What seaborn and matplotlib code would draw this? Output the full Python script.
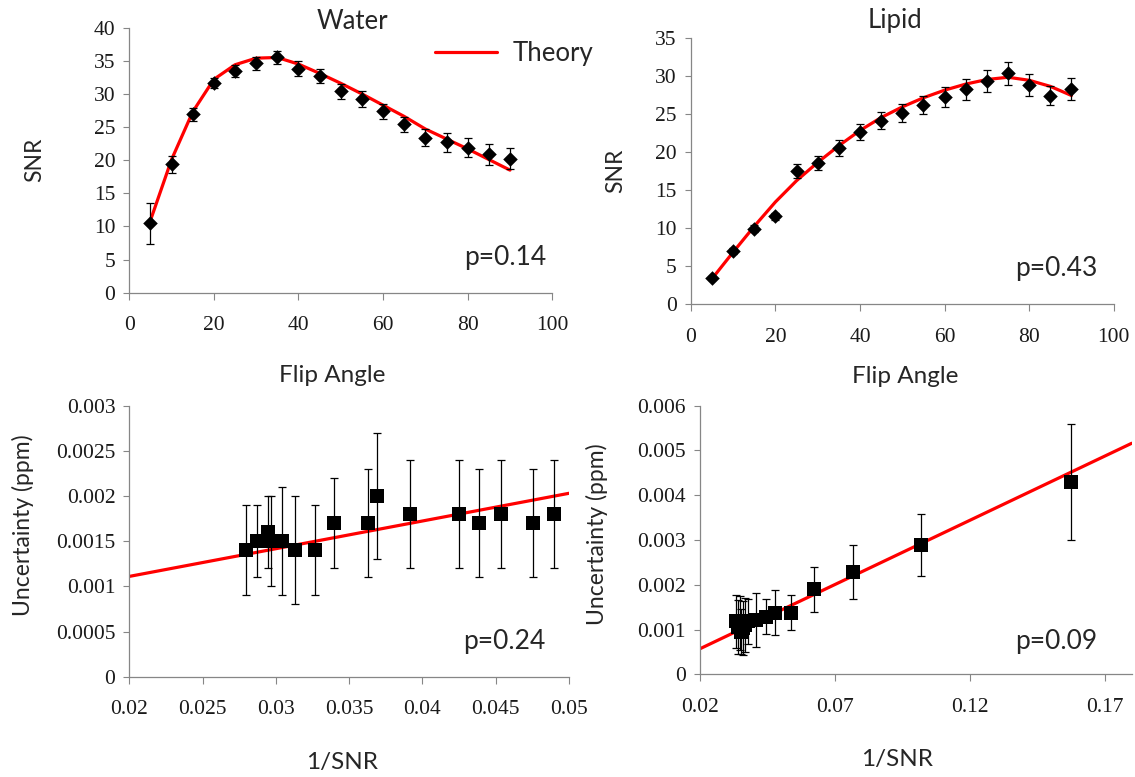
import numpy as np
import matplotlib
matplotlib.use('Agg')
import matplotlib.pyplot as plt
import seaborn as sns

# flip angle sweep (top row)
flip_angle = [5, 10, 15, 20, 25, 30, 35, 40, 45, 50, 55, 60, 65, 70, 75, 80, 85, 90]

water_snr = [10.5, 19.4, 26.9, 31.7, 33.5, 34.6, 35.5, 33.8, 32.7, 30.4, 29.3, 27.4,
             25.4, 23.4, 22.7, 21.9, 20.9, 20.2]
water_err = [3.1, 1.3, 1.0, 0.75, 0.9, 1.0, 1.0, 1.1, 1.1, 1.15, 1.2, 1.15,
             1.15, 1.3, 1.4, 1.45, 1.6, 1.6]
water_theory = [10.9, 20.1, 27.3, 32.2, 34.4, 35.4, 35.5, 34.5, 33.1, 31.6, 30.0, 28.3,
                26.6, 24.7, 23.2, 21.7, 20.1, 18.5]

lipid_snr = [3.4, 7.0, 9.9, 11.5, 17.5, 18.5, 20.5, 22.6, 24.1, 25.1, 26.2, 27.2,
             28.2, 29.3, 30.3, 28.8, 27.4, 28.3]
lipid_err = [0.3, 0.4, 0.5, 0.4, 0.9, 0.9, 1.1, 1.1, 1.15, 1.2, 1.2, 1.3,
             1.4, 1.5, 1.5, 1.4, 1.3, 1.45]
lipid_theory = [3.3, 6.8, 10.2, 13.4, 16.2, 18.6, 20.8, 22.8, 24.5, 25.9, 27.1, 28.1,
                28.9, 29.5, 29.8, 29.4, 28.6, 27.4]

# uncertainty vs 1/SNR (bottom row)
water_inv_snr = [0.02796, 0.02873, 0.02948, 0.02970, 0.03040, 0.03130, 0.03267, 0.03397,
                 0.03629, 0.03693, 0.03913, 0.04252, 0.04386, 0.04536, 0.04752, 0.04898]
water_unc = [0.0014, 0.0015, 0.0016, 0.0015, 0.0015, 0.0014, 0.0014, 0.0017,
             0.0017, 0.0020, 0.0018, 0.0018, 0.0017, 0.0018, 0.0017, 0.0018]
water_unc_err = [0.0005, 0.0004, 0.0004, 0.0005, 0.0006, 0.0006, 0.0005, 0.0005,
                 0.0006, 0.0007, 0.0006, 0.0006, 0.0006, 0.0006, 0.0006, 0.0006]
water_fit_x = [0.02, 0.05]
water_fit_y = [0.00111, 0.00203]

lipid_inv_snr = [0.0334, 0.0340, 0.0347, 0.0352, 0.0360, 0.0366, 0.0379, 0.0408,
                 0.0443, 0.0477, 0.0537, 0.0624, 0.0768, 0.1020, 0.1575]
lipid_unc = [0.00118, 0.00105, 0.00114, 0.00095, 0.00103, 0.00110, 0.00118, 0.00121,
             0.00129, 0.00138, 0.00138, 0.00190, 0.00229, 0.00289, 0.00430]
lipid_unc_err = [0.0006, 0.0006, 0.0006, 0.0005, 0.0006, 0.0006, 0.0005, 0.0006,
                 0.0004, 0.0005, 0.0004, 0.0005, 0.0006, 0.0007, 0.0013]
lipid_fit_x = [0.02, 0.18]
lipid_fit_y = [0.00057, 0.00516]

p_values = ['p=0.14', 'p=0.43', 'p=0.24', 'p=0.09']

sns.set_style('ticks')
plt.rcParams['font.family'] = ['Lato', 'DejaVu Sans']

SPINE = '#868686'
TICKTXT = '#1a1a1a'
SERIF = ['Liberation Serif', 'DejaVu Serif']

fig = plt.figure(figsize=(11.35, 7.77), dpi=100)
ax_tl = fig.add_axes([0.1139, 0.6233, 0.3727, 0.3411])
ax_tr = fig.add_axes([0.6086, 0.6088, 0.3727, 0.3427])
ax_bl = fig.add_axes([0.1139, 0.1291, 0.3874, 0.3488])
ax_br = fig.add_axes([0.6167, 0.1322, 0.3804, 0.3457])


def fmt(v):
    return '{:g}'.format(round(v, 6))


def style(ax, xticks, xlim, yticks, ylim, xlabel, ylabel, xl_pos, yl_pos):
    ax.set_xlim(*xlim)
    ax.set_ylim(*ylim)
    ax.set_xticks(xticks, [fmt(v) for v in xticks])
    ax.set_yticks(yticks, [fmt(v) for v in yticks])
    ax.tick_params(labelsize=15.5, labelcolor=TICKTXT)
    ax.tick_params(axis='x', direction='out', length=5, width=0.8, color=SPINE, pad=12)
    ax.tick_params(axis='y', direction='out', length=4, width=0.8, color=SPINE, pad=6)
    for lab in ax.get_xticklabels() + ax.get_yticklabels():
        lab.set_fontfamily(SERIF)
    for s in ['top', 'right']:
        ax.spines[s].set_visible(False)
    for s in ['left', 'bottom']:
        ax.spines[s].set_color(SPINE)
        ax.spines[s].set_linewidth(0.9)
    ax.set_xlabel(xlabel, fontsize=17.5)
    ax.set_ylabel(ylabel, fontsize=16.5)
    ax.xaxis.set_label_coords(*xl_pos)
    ax.yaxis.set_label_coords(*yl_pos)
    ax.xaxis.label.set_va('center')
    ax.yaxis.label.set_va('center')


def top_panel(ax, snr, err, theory):
    sns.lineplot(x=flip_angle, y=theory, ax=ax, color='#ff0000', lw=2.3,
                 legend=False, zorder=2)
    ax.errorbar(flip_angle, snr, yerr=err, fmt='none', ecolor='black',
                elinewidth=0.9, capsize=3, capthick=0.9, zorder=3)
    sns.scatterplot(x=flip_angle, y=snr, ax=ax, marker='D', s=55, color='black',
                    edgecolor='black', linewidth=0, zorder=4, legend=False)


def bottom_panel(ax, xs, ys, errs, fx, fy):
    sns.lineplot(x=fx, y=fy, ax=ax, color='#ff0000', lw=2.3, zorder=2, legend=False)
    ax.errorbar(xs, ys, yerr=errs, fmt='none', ecolor='black',
                elinewidth=0.9, capsize=3, capthick=0.9, zorder=3)
    sns.scatterplot(x=xs, y=ys, ax=ax, marker='s', s=105, color='black',
                    edgecolor='black', linewidth=0, zorder=4, legend=False)


top_panel(ax_tl, water_snr, water_err, water_theory)
top_panel(ax_tr, lipid_snr, lipid_err, lipid_theory)
bottom_panel(ax_bl, water_inv_snr, water_unc, water_unc_err, water_fit_x, water_fit_y)
bottom_panel(ax_br, lipid_inv_snr, lipid_unc, lipid_unc_err, lipid_fit_x, lipid_fit_y)

style(ax_tl, np.arange(0, 101, 20), (0, 100), np.arange(0, 41, 5), (0, 40),
      'Flip Angle', 'SNR', (0.48, -0.314), (-0.223, 0.5))
style(ax_tr, np.arange(0, 101, 20), (0, 100), np.arange(0, 36, 5), (0, 35),
      'Flip Angle', 'SNR', (0.506, -0.274), (-0.177, 0.5))
style(ax_bl, np.arange(0.02, 0.0501, 0.005), (0.02, 0.05),
      np.arange(0, 0.00301, 0.0005), (0, 0.003),
      '1/SNR', 'Uncertainty (ppm)', (0.485, -0.315), (-0.241, 0.56))
style(ax_br, [0.02, 0.07, 0.12, 0.17], (0.02, 0.18),
      np.arange(0, 0.00601, 0.001), (0, 0.006),
      '1/SNR', 'Uncertainty (ppm)', (0.456, -0.319), (-0.239, 0.52))

ax_tl.text(0.527, 1.025, 'Water', transform=ax_tl.transAxes, fontsize=18.5,
           ha='center', va='center')
ax_tr.text(0.483, 1.066, 'Lipid', transform=ax_tr.transAxes, fontsize=18.5,
           ha='center', va='center')

for ax, txt, pos in zip([ax_tl, ax_tr, ax_bl, ax_br], p_values,
                        [(0.888, 0.131), (0.863, 0.135), (0.854, 0.129), (0.824, 0.121)]):
    ax.text(pos[0], pos[1], txt, transform=ax.transAxes, fontsize=19,
            ha='center', va='center')

theory_line = ax_tl.lines[0]
fig.legend([theory_line], ['Theory'], loc='center left', bbox_to_anchor=(0.363, 0.931),
           frameon=False, fontsize=18.5, handlelength=2.4, handletextpad=0.6)

fig.savefig('out.png', dpi=100)
